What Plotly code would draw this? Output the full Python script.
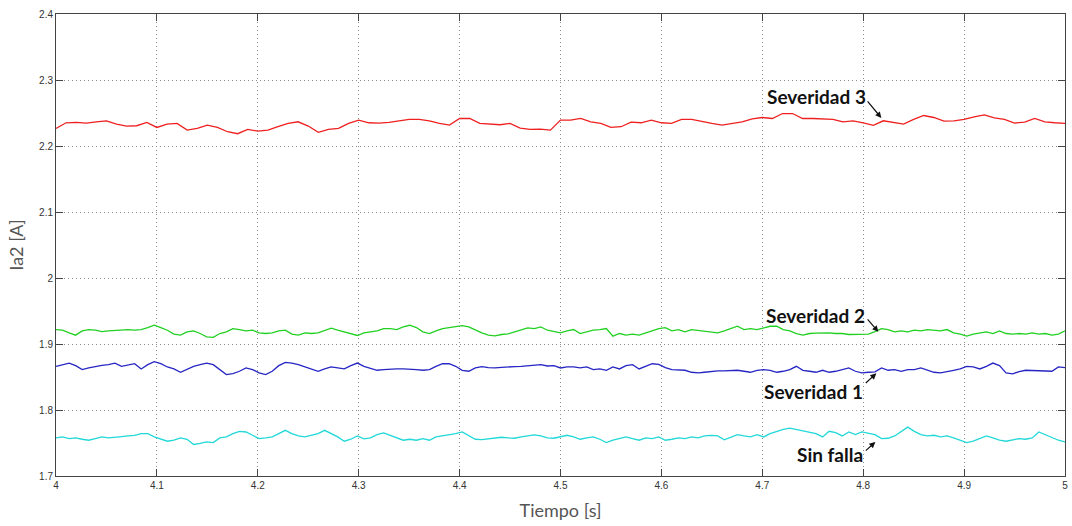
import numpy as np
import plotly.graph_objects as go

# ---------------- data ----------------
severidad3 = [2.2266, 2.2352, 2.2357, 2.2347, 2.2367, 2.2382, 2.2332, 2.2302, 2.2307, 2.2357,
              2.2281, 2.2332, 2.2342, 2.2241, 2.2266, 2.2317, 2.2281, 2.2216, 2.2186, 2.2251,
              2.2226, 2.2241, 2.2292, 2.2342, 2.2367, 2.2302, 2.2206, 2.2251, 2.2266, 2.2342,
              2.2392, 2.2352, 2.2347, 2.2357, 2.2382, 2.2402,
              2.2402, 2.2382, 2.2342, 2.2317, 2.2417, 2.2417, 2.2342, 2.2327, 2.2322, 2.2342,
              2.2271, 2.2251, 2.2256, 2.2241, 2.2392, 2.2392, 2.2417, 2.2367, 2.2342, 2.2281,
              2.2292, 2.2362, 2.2352, 2.2392, 2.2352, 2.2342, 2.2402, 2.2402, 2.2367, 2.2342,
              2.2317, 2.2342, 2.2367, 2.2412, 2.2432,
              2.2417, 2.2492, 2.2492, 2.2417, 2.2417, 2.2407, 2.2402, 2.2367, 2.2382, 2.2352,
              2.2312, 2.2382, 2.2352, 2.2332, 2.2402, 2.2462, 2.2432, 2.2377, 2.2382, 2.2402,
              2.2442, 2.2472, 2.2427, 2.2402, 2.2347, 2.2362, 2.2417, 2.2367, 2.2352, 2.2342]

severidad2 = [1.9219, 1.9209, 1.9169, 1.9134, 1.9199, 1.9219, 1.9209, 1.9189, 1.9199, 1.9209,
              1.9214, 1.9219, 1.9209, 1.9219, 1.9249, 1.9284, 1.9249, 1.9209, 1.9149, 1.9134,
              1.9184, 1.9199, 1.9159, 1.9109, 1.9100, 1.9159, 1.9184,
              1.9234, 1.9219, 1.9199, 1.9209, 1.9169, 1.9159, 1.9169, 1.9199, 1.9209, 1.9149,
              1.9134, 1.9169, 1.9159, 1.9169, 1.9199, 1.9239, 1.9209, 1.9184, 1.9149, 1.9129,
              1.9169, 1.9184, 1.9199, 1.9234, 1.9234, 1.9219,
              1.9259, 1.9284, 1.9249, 1.9184, 1.9159, 1.9199, 1.9234, 1.9249, 1.9259, 1.9279,
              1.9259, 1.9209, 1.9169, 1.9134, 1.9124, 1.9144, 1.9154, 1.9184, 1.9219, 1.9244,
              1.9234, 1.9259, 1.9209, 1.9184, 1.9169, 1.9199,
              1.9219, 1.9159, 1.9184, 1.9209, 1.9219, 1.9234, 1.9119, 1.9159, 1.9134, 1.9149,
              1.9134, 1.9169, 1.9199, 1.9234, 1.9249, 1.9199, 1.9219, 1.9184, 1.9219, 1.9209,
              1.9199, 1.9184, 1.9169, 1.9199, 1.9234, 1.9269,
              1.9219, 1.9234, 1.9219, 1.9249, 1.9269, 1.9269, 1.9219, 1.9199, 1.9159, 1.9134,
              1.9159, 1.9164, 1.9169, 1.9169, 1.9159, 1.9159, 1.9144, 1.9149, 1.9144, 1.9149,
              1.9189, 1.9234, 1.9219, 1.9184, 1.9199, 1.9184,
              1.9209, 1.9199, 1.9219, 1.9209, 1.9199, 1.9219, 1.9169, 1.9149, 1.9119, 1.9149,
              1.9169, 1.9184, 1.9159, 1.9199, 1.9159, 1.9149, 1.9159, 1.9149, 1.9169, 1.9149,
              1.9159, 1.9134, 1.9149, 1.9199]

severidad1 = [1.8662, 1.8687, 1.8711, 1.8672, 1.8612, 1.8637, 1.8662, 1.8677, 1.8687, 1.8711,
              1.8662, 1.8687, 1.8701, 1.8622, 1.8687, 1.8731, 1.8701, 1.8652, 1.8622, 1.8572,
              1.8612, 1.8662, 1.8687, 1.8711, 1.8687, 1.8612, 1.8537,
              1.8552, 1.8587, 1.8637, 1.8612, 1.8562, 1.8537, 1.8587, 1.8672, 1.8721, 1.8711,
              1.8687, 1.8652, 1.8612, 1.8587, 1.8622, 1.8652, 1.8637, 1.8622, 1.8672, 1.8711,
              1.8662, 1.8637, 1.8602, 1.8612, 1.8622, 1.8622,
              1.8622, 1.8622, 1.8612, 1.8602, 1.8612, 1.8662, 1.8701, 1.8701, 1.8662, 1.8602,
              1.8587, 1.8637, 1.8657, 1.8642, 1.8637, 1.8647, 1.8647, 1.8657, 1.8662, 1.8667,
              1.8682, 1.8687, 1.8667, 1.8672, 1.8637, 1.8652,
              1.8652, 1.8637, 1.8652, 1.8612, 1.8622, 1.8602, 1.8652, 1.8622, 1.8672, 1.8687,
              1.8622, 1.8662, 1.8701, 1.8692, 1.8642, 1.8612, 1.8612, 1.8602, 1.8572, 1.8562,
              1.8572, 1.8587, 1.8592, 1.8592, 1.8597, 1.8602,
              1.8587, 1.8572, 1.8602, 1.8612, 1.8602, 1.8572, 1.8587, 1.8612, 1.8662, 1.8602,
              1.8587, 1.8572, 1.8602, 1.8572, 1.8587, 1.8612, 1.8637, 1.8587, 1.8562, 1.8572,
              1.8577, 1.8637, 1.8602, 1.8612, 1.8587, 1.8612,
              1.8612, 1.8637, 1.8602, 1.8572, 1.8562, 1.8587, 1.8602, 1.8622, 1.8662, 1.8652,
              1.8622, 1.8662, 1.8711, 1.8672, 1.8562, 1.8547, 1.8582, 1.8602, 1.8597, 1.8602,
              1.8587, 1.8587, 1.8652, 1.8642]

sin_falla = [1.7577, 1.7592, 1.7567, 1.7577, 1.7557, 1.7542, 1.7567, 1.7592, 1.7577, 1.7592,
             1.7597, 1.7607, 1.7617, 1.7642, 1.7642, 1.7592, 1.7557, 1.7527, 1.7542, 1.7577,
             1.7557, 1.7478, 1.7493, 1.7517, 1.7507, 1.7577, 1.7592,
             1.7642, 1.7677, 1.7667, 1.7617, 1.7567, 1.7577, 1.7592, 1.7642, 1.7692, 1.7642,
             1.7607, 1.7592, 1.7617, 1.7642, 1.7692, 1.7642, 1.7592, 1.7527, 1.7557, 1.7607,
             1.7562, 1.7577, 1.7627, 1.7652, 1.7617, 1.7577,
             1.7542, 1.7557, 1.7542, 1.7567, 1.7542, 1.7592, 1.7607, 1.7627, 1.7642, 1.7667,
             1.7607, 1.7557, 1.7552, 1.7562, 1.7567, 1.7587, 1.7577, 1.7572, 1.7592, 1.7612,
             1.7622, 1.7607, 1.7577, 1.7572, 1.7592, 1.7617,
             1.7592, 1.7557, 1.7577, 1.7592, 1.7557, 1.7507, 1.7542, 1.7567, 1.7592, 1.7567,
             1.7542, 1.7577, 1.7567, 1.7592, 1.7542, 1.7557, 1.7577, 1.7567, 1.7592, 1.7577,
             1.7607, 1.7617, 1.7607, 1.7547, 1.7587, 1.7627,
             1.7607, 1.7592, 1.7627, 1.7592, 1.7642, 1.7677, 1.7706, 1.7726, 1.7706, 1.7677,
             1.7667, 1.7642, 1.7592, 1.7677, 1.7657, 1.7607, 1.7667, 1.7627, 1.7667, 1.7642,
             1.7627, 1.7567, 1.7572, 1.7607, 1.7677, 1.7741,
             1.7677, 1.7627, 1.7607, 1.7617, 1.7592, 1.7607, 1.7577, 1.7542, 1.7507, 1.7527,
             1.7567, 1.7607, 1.7577, 1.7542, 1.7527, 1.7542, 1.7567, 1.7557, 1.7577, 1.7667,
             1.7627, 1.7592, 1.7542, 1.7517]

# sampling instants of the recorded signals (s)
t_red = np.linspace(4.0, 5.0, len(severidad3))
t_low = np.linspace(4.0, 5.0, len(severidad2))

x_ticks = [4.0, 4.1, 4.2, 4.3, 4.4, 4.5, 4.6, 4.7, 4.8, 4.9, 5.0]
x_labels = ["4", "4.1", "4.2", "4.3", "4.4", "4.5", "4.6", "4.7", "4.8", "4.9", "5"]
y_ticks = [1.7, 1.8, 1.9, 2.0, 2.1, 2.2, 2.3, 2.4]
y_labels = ["1.7", "1.8", "1.9", "2", "2.1", "2.2", "2.3", "2.4"]

# ---------------- figure ----------------
fig = go.Figure()
series = [
    (t_red, severidad3, "#ee2020", "Severidad 3"),
    (t_low, severidad2, "#22d022", "Severidad 2"),
    (t_low, severidad1, "#2626c4", "Severidad 1"),
    (t_low, sin_falla, "#22d8d8", "Sin falla"),
]
for t, v, c, name in series:
    fig.add_trace(go.Scatter(x=t, y=v, mode="lines", name=name,
                             line=dict(color=c, width=1.3), showlegend=False))

label_font = dict(family="Lato, Open Sans, sans-serif", size=19, color="#111111")
# (label, label x, label y, head x, head y, tail dx px, tail dy px)
notes = [
    ("Severidad 3", 4.805, 2.2743, 4.818, 2.2425, -15, -18),
    ("Severidad 2", 4.804, 1.9428, 4.815, 1.9185, -12, -14),
    ("Severidad 1", 4.802, 1.8277, 4.813, 1.8555, -12, 11),
    ("Sin falla", 4.802, 1.7323, 4.812, 1.7515, -11, 10),
]
for txt, lx, ly, hx, hy, dx, dy in notes:
    fig.add_annotation(x=lx, y=ly, text="<b>%s</b>" % txt, showarrow=False,
                       xanchor="right", yanchor="middle", font=label_font)
    fig.add_annotation(x=hx, y=hy, text="", showarrow=True, ax=dx, ay=dy,
                       arrowhead=2, arrowsize=1, arrowwidth=1.2, arrowcolor="#111111")

axis_common = dict(showgrid=True, gridcolor="#8c8c8c", griddash="1px,3px", gridwidth=1,
                   showline=True, linecolor="#444444", linewidth=1, mirror="ticks",
                   ticks="inside", ticklen=7, tickcolor="#444444", zeroline=False,
                   tickfont=dict(family="Liberation Sans, Arial, sans-serif", size=10,
                                 color="#333333"))

fig.update_xaxes(range=[4.0, 5.0], tickvals=x_ticks, ticktext=x_labels,
                 title=dict(text="Tiempo [s]", standoff=14,
                            font=dict(family="Lato, Open Sans, sans-serif", size=18,
                                      color="#555555")),
                 **axis_common)
fig.update_yaxes(range=[1.7, 2.4], tickvals=y_ticks, ticktext=y_labels,
                 title=dict(text="Ia2 [A]", standoff=10,
                            font=dict(family="Lato, Open Sans, sans-serif", size=18,
                                      color="#555555")),
                 **axis_common)

fig.update_layout(width=1072, height=526, plot_bgcolor="white", paper_bgcolor="white",
                  margin=dict(l=56, r=4, t=14, b=50))

fig.write_html("out.html")
